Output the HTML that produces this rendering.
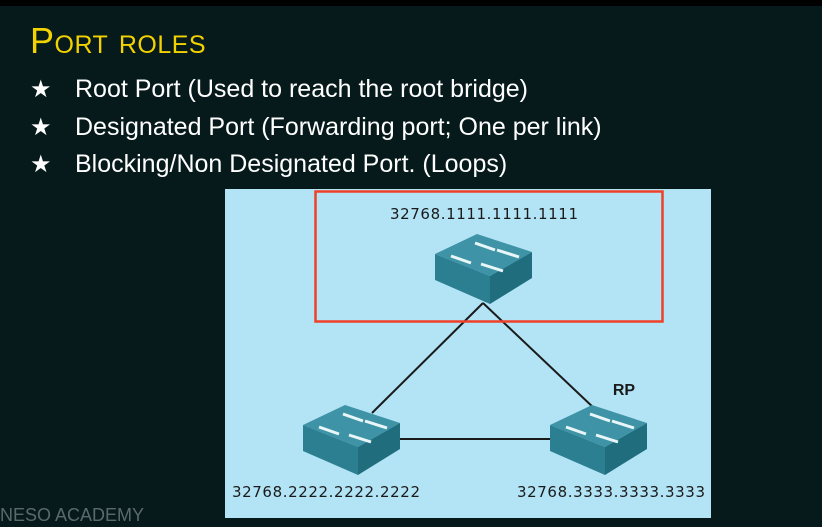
<!DOCTYPE html>
<html><head><style>
body{margin:0;width:822px;height:527px;background:#071a1b;overflow:hidden;position:relative;font-family:"Liberation Sans",sans-serif}
.t{position:absolute;white-space:nowrap}
</style></head><body>
<div style="position:absolute;left:0;top:0;width:822px;height:6px;background:#000"></div>
<div class="t" style="left:30px;top:20px;color:#f2d200;font-size:36px;font-variant:small-caps;letter-spacing:0.5px">Port roles</div>
<div class="t" style="left:30px;top:71px;color:#fff;font-size:25px;line-height:36.5px">
<div><span style="font-size:24px;display:inline-block;width:45px">★</span>Root Port (Used to reach the root bridge)</div>
<div><span style="font-size:24px;display:inline-block;width:45px">★</span>Designated Port (Forwarding port; One per link)</div>
<div><span style="font-size:24px;display:inline-block;width:45px">★</span>Blocking/Non Designated Port. (Loops)</div>
</div>
<svg style="position:absolute;left:0;top:0" width="822" height="527">
<defs>
<g id="sw">
<polygon points="0,20 42,0 97,18 55,42" fill="#3f93a6"/>
<polygon points="0,20 55,42 55,70 0,46" fill="#2b7f91"/>
<polygon points="55,42 97,18 97,44 55,70" fill="#1f6d7d"/>
<g stroke="#e8f6f8" stroke-width="3" fill="#e8f6f8">
<line x1="16" y1="22" x2="36" y2="29"/><line x1="40" y1="9" x2="60" y2="16"/>
<line x1="46" y1="30" x2="68" y2="37"/><line x1="62" y1="16" x2="84" y2="23"/>
</g>
</g>
</defs>
<rect x="225" y="189" width="486" height="329" fill="#b2e4f6"/>
<line x1="483" y1="303" x2="372" y2="413" stroke="#1a1a1a" stroke-width="2"/>
<line x1="483" y1="303" x2="596" y2="410" stroke="#1a1a1a" stroke-width="2"/>
<line x1="400" y1="439" x2="552" y2="439" stroke="#1a1a1a" stroke-width="2"/>
<use href="#sw" x="435" y="234"/>
<use href="#sw" x="303" y="405"/>
<use href="#sw" x="550" y="405"/>
<rect x="315.5" y="191.5" width="347" height="130" fill="none" stroke="#f0402a" stroke-width="2.5"/>
<g font-family="DejaVu Sans, sans-serif" fill="#1a1a1a" font-size="15" text-anchor="middle">
<text x="484" y="219" textLength="188">32768.1111.1111.1111</text>
<text x="326" y="497" textLength="188">32768.2222.2222.2222</text>
<text x="611" y="497" textLength="188">32768.3333.3333.3333</text>
<text x="624" y="395" font-weight="bold" font-size="16" font-family="Liberation Sans, sans-serif">RP</text>
</g>
<text x="0" y="521" fill="#5a6a6a" font-size="18" font-family="Liberation Sans, sans-serif">NESO ACADEMY</text>
</svg>
</body></html>
